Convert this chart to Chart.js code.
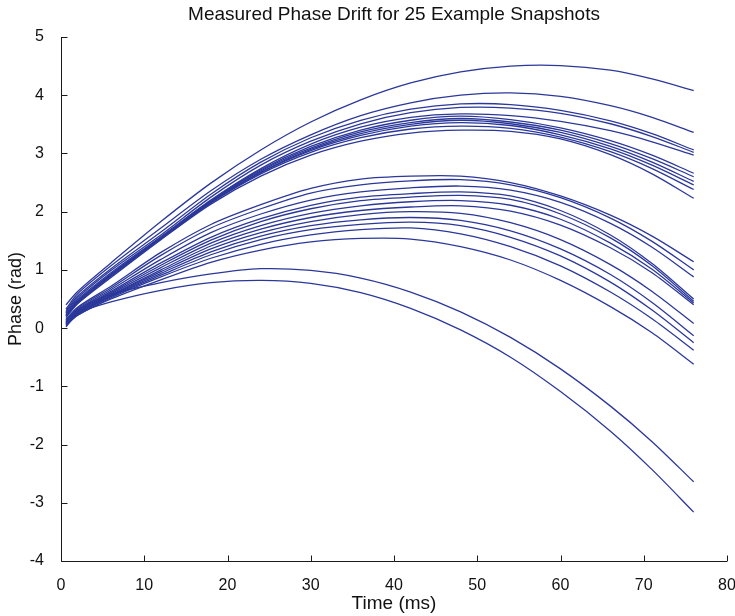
<!doctype html>
<html>
<head>
    <title>Measured Phase Drift</title>
    <script src="https://cdn.jsdelivr.net/npm/chart.js@4.4.1/dist/chart.umd.min.js"></script>
    <style>
        body { margin: 0; background: #fff; }
        canvas { display: block; }
    </style>
</head>
<body>
<canvas id="phase-chart" width="735" height="616"></canvas>
<script>
    // sample times (ms)
    var time = [0.6, 2, 6, 12, 18, 24, 30, 36, 42, 48, 54, 60, 66, 71, 76];

    // phase (rad) per snapshot
    var snap01 = [0.40, 0.63, 1.12, 1.83, 2.49, 3.06, 3.54, 3.92, 4.21, 4.40, 4.50, 4.51, 4.43, 4.28, 4.08];
    var snap02 = [0.33, 0.59, 1.07, 1.72, 2.36, 2.90, 3.32, 3.65, 3.87, 4.00, 4.04, 3.98, 3.82, 3.62, 3.36];
    var snap03 = [0.30, 0.55, 1.02, 1.65, 2.30, 2.85, 3.27, 3.57, 3.76, 3.85, 3.84, 3.74, 3.56, 3.34, 3.06];
    var snap04 = [0.28, 0.52, 0.99, 1.60, 2.25, 2.80, 3.21, 3.51, 3.70, 3.79, 3.78, 3.69, 3.51, 3.29, 3.02];
    var snap05 = [0.26, 0.49, 0.95, 1.57, 2.20, 2.74, 3.16, 3.45, 3.62, 3.68, 3.65, 3.55, 3.39, 3.20, 2.97];
    var snap06 = [0.25, 0.47, 0.93, 1.56, 2.19, 2.72, 3.12, 3.40, 3.57, 3.64, 3.58, 3.44, 3.22, 2.97, 2.66];
    var snap07 = [0.23, 0.46, 0.92, 1.55, 2.18, 2.70, 3.09, 3.37, 3.53, 3.60, 3.54, 3.40, 3.17, 2.91, 2.60];
    var snap08 = [0.22, 0.45, 0.91, 1.54, 2.17, 2.68, 3.07, 3.34, 3.50, 3.57, 3.51, 3.36, 3.12, 2.85, 2.52];
    var snap09 = [0.21, 0.44, 0.90, 1.54, 2.16, 2.67, 3.05, 3.31, 3.47, 3.53, 3.48, 3.32, 3.08, 2.80, 2.46];
    var snap10 = [0.20, 0.43, 0.89, 1.53, 2.15, 2.65, 3.02, 3.27, 3.42, 3.47, 3.43, 3.28, 3.03, 2.74, 2.38];
    var snap11 = [0.18, 0.42, 0.87, 1.52, 2.13, 2.61, 2.97, 3.21, 3.35, 3.40, 3.38, 3.25, 2.98, 2.65, 2.23];
    var snap12 = [0.15, 0.36, 0.72, 1.30, 1.78, 2.12, 2.40, 2.56, 2.61, 2.61, 2.50, 2.27, 1.94, 1.58, 1.14];
    var snap13 = [0.14, 0.34, 0.69, 1.25, 1.72, 2.05, 2.32, 2.46, 2.53, 2.55, 2.46, 2.24, 1.89, 1.49, 1.00];
    var snap14 = [0.13, 0.32, 0.66, 1.18, 1.64, 1.96, 2.20, 2.34, 2.41, 2.44, 2.37, 2.16, 1.80, 1.39, 0.88];
    var snap15 = [0.12, 0.30, 0.63, 1.12, 1.56, 1.88, 2.11, 2.25, 2.31, 2.34, 2.27, 2.02, 1.60, 1.11, 0.50];
    var snap16 = [0.11, 0.29, 0.61, 1.08, 1.51, 1.83, 2.05, 2.19, 2.25, 2.28, 2.21, 1.96, 1.55, 1.07, 0.46];
    var snap17 = [0.10, 0.28, 0.59, 1.04, 1.46, 1.76, 1.97, 2.10, 2.17, 2.19, 2.11, 1.87, 1.46, 1.01, 0.43];
    var snap18 = [0.09, 0.27, 0.57, 1.00, 1.41, 1.70, 1.90, 2.02, 2.08, 2.10, 2.01, 1.77, 1.38, 0.95, 0.40];
    var snap19 = [0.08, 0.26, 0.56, 0.97, 1.36, 1.64, 1.83, 1.95, 2.00, 1.97, 1.81, 1.52, 1.09, 0.63, 0.08];
    var snap20 = [0.07, 0.25, 0.55, 0.94, 1.31, 1.58, 1.76, 1.86, 1.90, 1.85, 1.67, 1.36, 0.92, 0.44, -0.13];
    var snap21 = [0.06, 0.24, 0.54, 0.91, 1.26, 1.52, 1.69, 1.78, 1.82, 1.76, 1.56, 1.24, 0.79, 0.31, -0.25];
    var snap22 = [0.05, 0.22, 0.52, 0.88, 1.20, 1.44, 1.60, 1.69, 1.72, 1.62, 1.40, 1.07, 0.62, 0.16, -0.38];
    var snap23 = [0.04, 0.22, 0.50, 0.83, 1.13, 1.34, 1.48, 1.54, 1.53, 1.40, 1.17, 0.82, 0.37, -0.08, -0.62];
    var snap24 = [0.08, 0.32, 0.58, 0.78, 0.93, 1.02, 0.99, 0.86, 0.62, 0.28, -0.16, -0.70, -1.34, -1.95, -2.64];
    var snap25 = [0.02, 0.25, 0.45, 0.65, 0.78, 0.82, 0.77, 0.61, 0.34, -0.03, -0.50, -1.09, -1.77, -2.43, -3.16];

    var snapshots = [snap01, snap02, snap03, snap04, snap05, snap06, snap07, snap08, snap09, snap10,
        snap11, snap12, snap13, snap14, snap15, snap16, snap17, snap18, snap19, snap20,
        snap21, snap22, snap23, snap24, snap25];

    var xTicks = [0, 10, 20, 30, 40, 50, 60, 70, 80];
    var yTicks = [-4, -3, -2, -1, 0, 1, 2, 3, 4, 5];
    var chartTitle = 'Measured Phase Drift for 25 Example Snapshots';

    var lineColor = '#2b389a';
    var fontFamily = '"Liberation Sans", Arial, Helvetica, sans-serif';

    // MATLAB style: axis lines on left/bottom, inward ticks, title centred on the axes
    var matlabAxes = {
        id: 'matlabAxes',
        afterDraw: function(chart) {
            var ctx = chart.ctx;
            var area = chart.chartArea;
            var xs = chart.scales.x;
            var ys = chart.scales.y;
            var left = Math.round(area.left) + 0.5;
            var bottom = Math.round(area.bottom) + 0.5;
            ctx.save();
            ctx.strokeStyle = '#1a1a1a';
            ctx.lineWidth = 1;
            ctx.beginPath();
            ctx.moveTo(left, area.top);
            ctx.lineTo(left, bottom);
            ctx.lineTo(area.right, bottom);
            xTicks.forEach(function(v) {
                var px = Math.round(xs.getPixelForValue(v)) + 0.5;
                ctx.moveTo(px, bottom);
                ctx.lineTo(px, bottom - 6);
            });
            yTicks.forEach(function(v) {
                var py = Math.round(ys.getPixelForValue(v)) + 0.5;
                ctx.moveTo(left, py);
                ctx.lineTo(left + 6, py);
            });
            ctx.stroke();

            ctx.fillStyle = '#111';
            ctx.font = '19px ' + fontFamily;
            ctx.textAlign = 'center';
            ctx.textBaseline = 'middle';
            ctx.fillText(chartTitle, (area.left + area.right) / 2, 15);
            ctx.restore();
        }
    };

    var datasets = snapshots.map(function(values, i) {
        return {
            label: 'Snapshot ' + (i + 1),
            data: time.map(function(t, j) { return {x: t, y: values[j]}; }),
            borderColor: lineColor,
            borderWidth: 1.3,
            pointRadius: 0,
            fill: false,
            tension: 0.3
        };
    });

    var config = {
        type: 'line',
        data: {datasets: datasets},
        options: {
            responsive: false,
            animation: false,
            layout: {padding: {left: 0, right: 8, top: 37, bottom: 0}},
            plugins: {
                legend: {display: false},
                tooltip: {enabled: false},
                title: {display: false}
            },
            scales: {
                x: {
                    type: 'linear',
                    min: 0,
                    max: 80,
                    afterFit: function(scale) {
                        scale.height = 55;
                        scale.paddingRight = 0;
                    },
                    afterBuildTicks: function(scale) {
                        scale.ticks = xTicks.map(function(v) { return {value: v}; });
                    },
                    grid: {display: false},
                    border: {display: false},
                    ticks: {
                        color: '#111',
                        padding: 7,
                        maxRotation: 0,
                        font: {family: fontFamily, size: 16}
                    },
                    title: {
                        display: true,
                        text: 'Time (ms)',
                        color: '#111',
                        font: {family: fontFamily, size: 19, lineHeight: 1.2},
                        padding: {top: 0, bottom: 1}
                    }
                },
                y: {
                    min: -4,
                    max: 5,
                    afterFit: function(scale) {
                        scale.width = 61;
                    },
                    afterBuildTicks: function(scale) {
                        scale.ticks = yTicks.map(function(v) { return {value: v}; });
                    },
                    grid: {display: false},
                    border: {display: false},
                    ticks: {
                        color: '#111',
                        padding: 9,
                        font: {family: fontFamily, size: 16}
                    },
                    title: {
                        display: true,
                        text: 'Phase (rad)',
                        color: '#111',
                        font: {family: fontFamily, size: 18, lineHeight: 1.2},
                        padding: {top: 5, bottom: 0}
                    }
                }
            }
        },
        plugins: [matlabAxes]
    };

    window.onload = function() {
        var ctx = document.getElementById('phase-chart').getContext('2d');
        window.phaseChart = new Chart(ctx, config);
    };
</script>
</body>
</html>
